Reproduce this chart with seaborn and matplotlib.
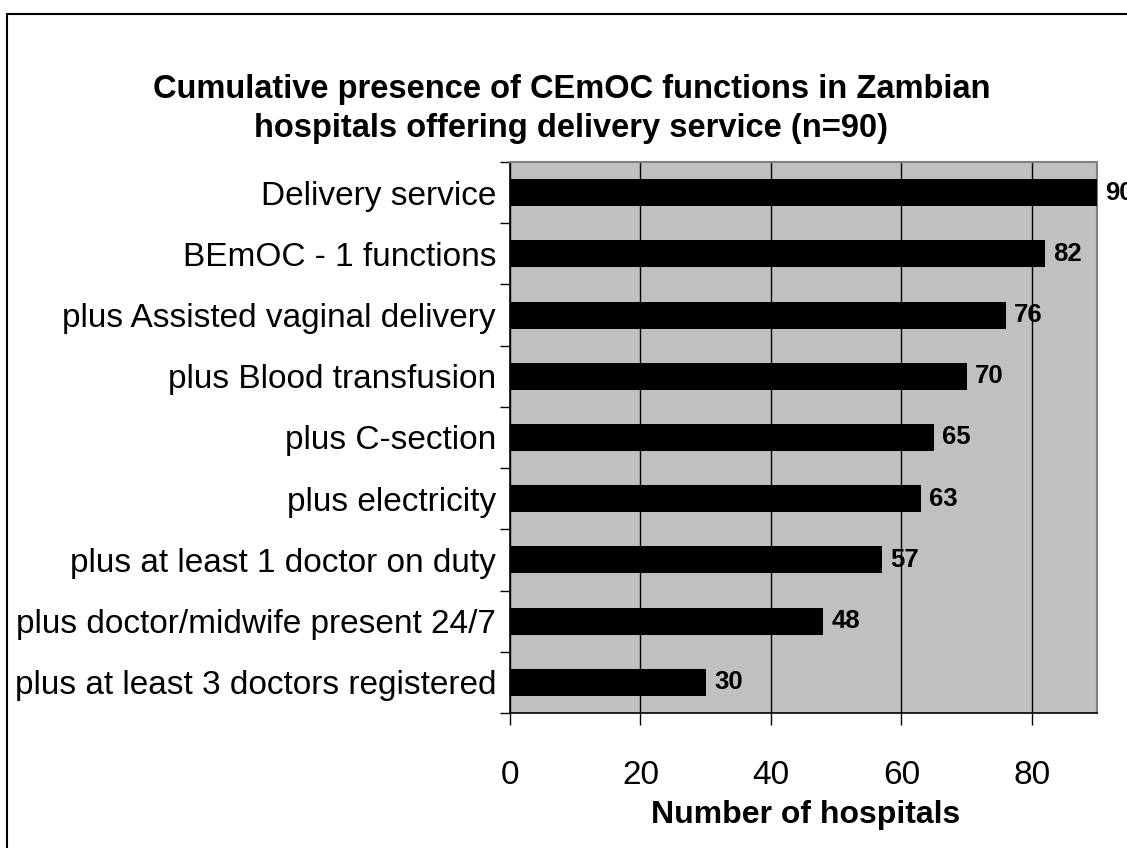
import numpy as np
import matplotlib
matplotlib.use("Agg")
import matplotlib.pyplot as plt
import seaborn as sns
from matplotlib.lines import Line2D

# chart data
categories = [
    "Delivery service",
    "BEmOC - 1 functions",
    "plus Assisted vaginal delivery",
    "plus Blood transfusion",
    "plus C-section",
    "plus electricity",
    "plus at least 1 doctor on duty",
    "plus doctor/midwife present 24/7",
    "plus at least 3 doctors registered",
]
hospitals = [90, 82, 76, 70, 65, 63, 57, 48, 30]
x_ticks = [0, 20, 40, 60, 80]

sns.set_style("white")
plt.rcParams["font.family"] = ["Liberation Sans", "DejaVu Sans"]
plt.rcParams["text.color"] = "black"
plt.rcParams["xtick.color"] = "black"
plt.rcParams["ytick.color"] = "black"

fig = plt.figure(figsize=(11.27, 8.48), dpi=100)
ax = fig.add_axes([510 / 1127, 1 - 713 / 848, 587 / 1127, 551 / 848])
ax.set_facecolor("#C0C0C0")

sns.barplot(x=hospitals, y=categories, orient="h", color="black",
            saturation=1, width=0.44, linewidth=0, edgecolor="black",
            ax=ax, zorder=3)

ax.set_xlim(0, 90)
ax.set_ylim(8.5, -0.5)
ax.set_xticks(x_ticks)
ax.grid(axis="x", color="black", linewidth=1, zorder=1)
ax.set_axisbelow(True)
ax.set_xlabel("")
ax.set_ylabel("")

# Excel-style ticks between categories
ax.set_yticks(np.arange(-0.5, 9, 1), minor=True)
ax.tick_params(axis="y", which="major", length=0, pad=10, labelsize=24,
               labelcolor="black")
ax.tick_params(axis="y", which="minor", length=7, width=1, direction="out",
               left=True, color="black")
ax.tick_params(axis="x", length=8.5, width=1, direction="out", bottom=True,
               pad=25, labelsize=24, labelcolor="black", color="black")

for side in ["top", "right"]:
    ax.spines[side].set_color("#808080")
    ax.spines[side].set_linewidth(1.5)
for side in ["left", "bottom"]:
    ax.spines[side].set_color("black")
    ax.spines[side].set_linewidth(1.2)

ax.bar_label(ax.containers[0], padding=6, fontsize=18.5, fontweight="bold",
             color="black", clip_on=False)

fig.text(0.507, 1 - 109 / 848,
         "Cumulative presence of CEmOC functions in Zambian\nhospitals offering delivery service (n=90)",
         ha="center", va="center", fontsize=23.5, fontweight="bold", linespacing=1.3)
fig.text(806 / 1127, 1 - 815 / 848, "Number of hospitals",
         ha="center", va="center", fontsize=23, fontweight="bold")

# outer chart border (left and top only visible)
fig.add_artist(Line2D([7 / 1127, 7 / 1127], [0, 1 - 14 / 848], color="black",
                      linewidth=1.5, transform=fig.transFigure))
fig.add_artist(Line2D([7 / 1127, 1], [1 - 14 / 848, 1 - 14 / 848], color="black",
                      linewidth=1.5, transform=fig.transFigure))

fig.savefig("out.png", dpi=100)
